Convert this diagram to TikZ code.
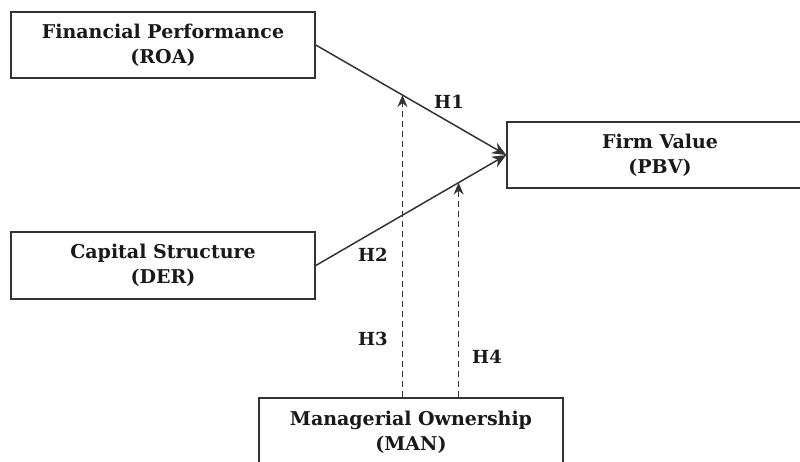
\documentclass[tikz,border=0pt]{standalone}
\usepackage{fontspec}
\setmainfont{DejaVu Serif}
\usetikzlibrary{arrows.meta,calc}
\tikzset{
  box/.style={draw=black!80, line width=1.6pt, fill=white, align=center, inner sep=0pt,
    font=\fontsize{19}{25}\selectfont\bfseries, text=black!90},
  conn/.style={draw=black!80, line width=1.5pt, -{Stealth[length=14pt,width=12pt,inset=4.5pt]}},
  dconn/.style={draw=black!80, line width=1.5pt, dash pattern=on 6pt off 4pt,
    -{Stealth[length=12pt,width=10pt,inset=4pt]}},
  lab/.style={font=\fontsize{18}{20}\selectfont\bfseries, text=black!90, inner sep=0pt}
}
\begin{document}
\begin{tikzpicture}[x=1pt,y=-1pt]
\useasboundingbox (0,0) rectangle (800,462);
\clip (0,0) rectangle (800,462);
\node[box, minimum width=304pt, minimum height=66pt] (fp) at (163,45) {Financial Performance\\(ROA)};
\node[box, minimum width=304pt, minimum height=67pt] (cs) at (163,265.5) {Capital Structure\\(DER)};
\node[box, minimum width=306pt, minimum height=66pt] (fv) at (660,155) {Firm Value\\(PBV)};
\node[box, minimum width=304pt, minimum height=68pt] (man) at (411,432) {Managerial Ownership\\(MAN)};
\draw[conn] (fp.east) -- (fv.west);
\draw[conn] (cs.east) -- (fv.west);
\coordinate (t3) at ($(fp.east)!0.455!(fv.west)$);
\coordinate (t4) at ($(cs.east)!0.75!(fv.west)$);
\draw[dconn] (t3 |- man.north) -- (t3);
\draw[dconn] (t4 |- man.north) -- (t4);
\node[lab] (h1) at (449,102) {H1};
\node[lab] (h2) at (373,255) {H2};
\node[lab] (h3) at (373,339) {H3};
\node[lab] (h4) at (487,357) {H4};
\end{tikzpicture}
\end{document}
